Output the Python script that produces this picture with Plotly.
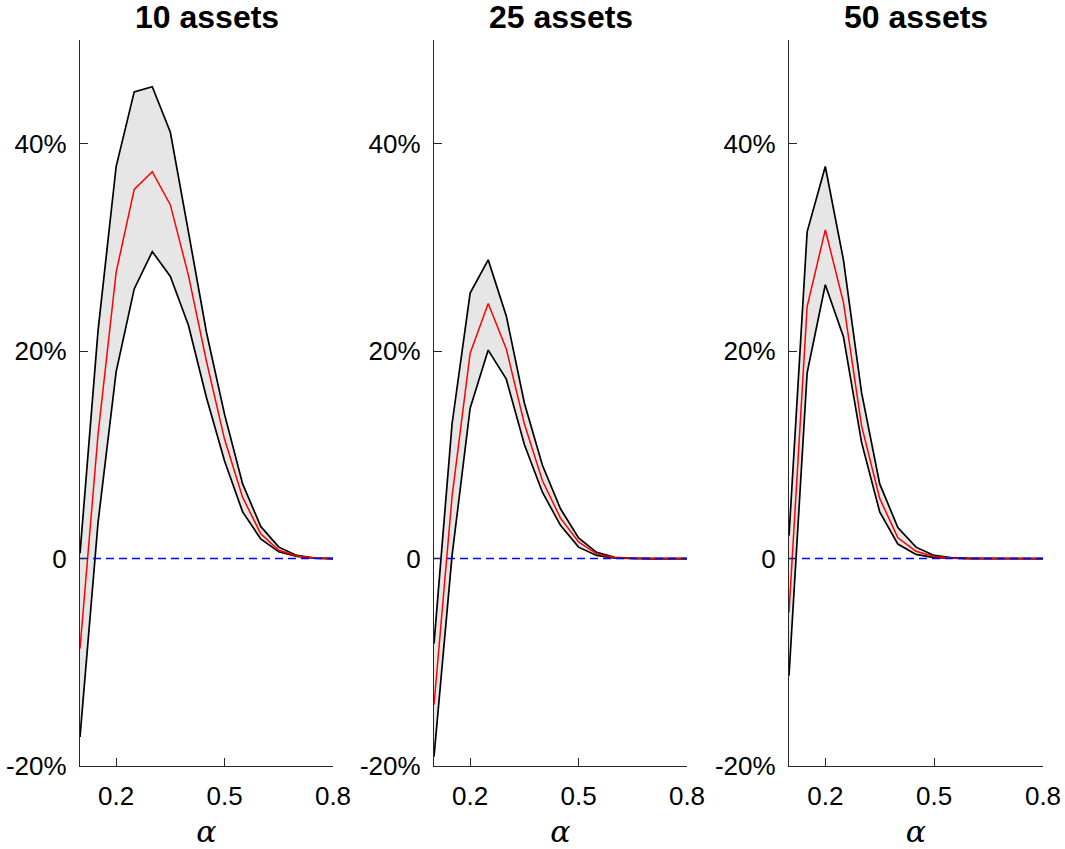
import plotly.graph_objects as go

alpha = [0.1, 0.15, 0.2, 0.25, 0.3, 0.35, 0.4, 0.45, 0.5, 0.55, 0.6, 0.65, 0.7, 0.75, 0.8]

titles = ["10 assets", "25 assets", "50 assets"]

# values in percent
upper_10 = [0.5, 22.0, 37.8, 45.0, 45.5, 41.1, 31.5, 21.8, 13.9, 7.2, 3.1, 1.1, 0.3, 0.05, 0.0]
mid_10 = [-8.7, 12.0, 27.6, 35.6, 37.3, 34.1, 27.3, 19.0, 11.5, 5.9, 2.4, 0.8, 0.25, 0.05, 0.0]
lower_10 = [-17.2, 3.5, 18.0, 26.0, 29.6, 27.2, 22.5, 15.5, 9.4, 4.5, 1.9, 0.65, 0.2, 0.03, 0.0]

upper_25 = [-8.2, 13.0, 25.6, 28.8, 23.4, 15.0, 9.0, 4.8, 2.0, 0.6, 0.12, 0.02, 0.0, 0.0, 0.0]
mid_25 = [-14.1, 6.0, 19.8, 24.6, 20.2, 13.0, 7.5, 3.9, 1.6, 0.45, 0.08, 0.01, 0.0, 0.0, 0.0]
lower_25 = [-19.1, 0.3, 14.5, 20.1, 17.3, 11.0, 6.4, 3.2, 1.1, 0.3, 0.04, 0.0, 0.0, 0.0, 0.0]

upper_50 = [2.2, 31.5, 37.8, 28.8, 16.0, 7.2, 3.0, 1.1, 0.3, 0.06, 0.02, 0.0, 0.0, 0.0, 0.0]
mid_50 = [-5.2, 24.3, 31.7, 24.7, 12.8, 5.8, 2.0, 0.7, 0.2, 0.04, 0.0, 0.0, 0.0, 0.0, 0.0]
lower_50 = [-11.3, 17.9, 26.4, 21.4, 11.2, 4.5, 1.4, 0.4, 0.1, 0.02, 0.0, 0.0, 0.0, 0.0, 0.0]

y_tickvals = [-20, 0, 20, 40]
y_ticktext = ["-20%", "0", "20%", "40%"]
x_tickvals = [0.2, 0.5, 0.8]
x_ticktext = ["0.2", "0.5", "0.8"]

panels = [(upper_10, mid_10, lower_10), (upper_25, mid_25, lower_25), (upper_50, mid_50, lower_50)]

W, H = 1065, 849
x_px = [(80, 333), (434, 687), (789, 1043)]
y_top, y_bot = 40, 766

fig = go.Figure()
axis_color = "#262626"
font_family = "Liberation Sans, Arial, sans-serif"

for i, (up, md, lo) in enumerate(panels):
    n = "" if i == 0 else str(i + 1)
    xa, ya = "x" + n, "y" + n
    # shaded band
    fig.add_trace(go.Scatter(x=alpha + alpha[::-1], y=up + lo[::-1], fill="toself",
                             fillcolor="#e6e6e6", line=dict(width=0), mode="lines",
                             hoverinfo="skip", showlegend=False, xaxis=xa, yaxis=ya))
    fig.add_trace(go.Scatter(x=alpha, y=up, mode="lines", line=dict(color="black", width=1.7),
                             showlegend=False, xaxis=xa, yaxis=ya))
    fig.add_trace(go.Scatter(x=alpha, y=lo, mode="lines", line=dict(color="black", width=1.7),
                             showlegend=False, xaxis=xa, yaxis=ya))
    fig.add_trace(go.Scatter(x=alpha, y=md, mode="lines", line=dict(color="red", width=1.5),
                             showlegend=False, xaxis=xa, yaxis=ya))
    fig.add_trace(go.Scatter(x=[alpha[0], alpha[-1]], y=[0, 0], mode="lines",
                             line=dict(color="blue", width=1.5, dash="8px,5px"),
                             showlegend=False, xaxis=xa, yaxis=ya))

    x0, x1 = x_px[i]
    dom_x = [x0 / W, x1 / W]
    dom_y = [(H - y_bot) / H, (H - y_top) / H]
    fig.layout["xaxis" + n] = dict(
        domain=dom_x, range=[0.1, 0.8], tickvals=x_tickvals, ticktext=x_ticktext,
        ticks="inside", ticklen=8, tickwidth=1.3, tickcolor=axis_color,
        showline=True, linecolor=axis_color, linewidth=1.3, showgrid=False, zeroline=False,
        tickfont=dict(size=26, color="black", family=font_family),
        anchor=ya, fixedrange=True, automargin=False, ticklabelstandoff=7,
        title=dict(text="α", font=dict(size=30, color="black", family="DejaVu Serif", style="italic"),
                   standoff=18),
    )
    fig.layout["yaxis" + n] = dict(
        domain=dom_y, range=[-20, 50], tickvals=y_tickvals, ticktext=y_ticktext,
        ticks="inside", ticklen=8, tickwidth=1.3, tickcolor=axis_color,
        showline=True, linecolor=axis_color, linewidth=1.3, showgrid=False, zeroline=False,
        tickfont=dict(size=26, color="black", family=font_family),
        anchor=xa, fixedrange=True, automargin=False, ticklabelstandoff=7,
    )
    fig.add_annotation(text="<b>" + titles[i] + "</b>", xref="paper", yref="paper",
                       x=(x0 + x1) / 2 / W, y=(H - 17) / H, xanchor="center", yanchor="middle",
                       showarrow=False, font=dict(size=32, color="black", family=font_family))

fig.update_layout(width=W, height=H, margin=dict(l=0, r=0, t=0, b=0, autoexpand=False),
                  plot_bgcolor="white", paper_bgcolor="white")

fig.write_html("out.html", config={"displayModeBar": False},
               post_script="document.body.style.margin='0px';document.body.style.overflow='hidden';")
